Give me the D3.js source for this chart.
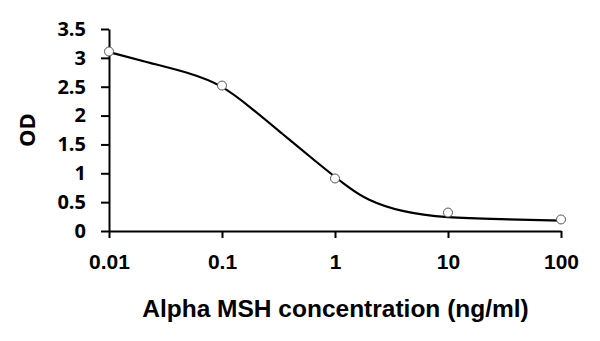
<!DOCTYPE html>
<html><head><meta charset="utf-8">
<script src="https://cdn.jsdelivr.net/npm/d3@7"></script>
<style>html,body{margin:0;padding:0;background:#fff;}</style>
</head><body>
<svg id="chart" width="600" height="341"></svg>
<script>
// Measured points
const concentrations = [0.01, 0.1, 1, 10, 100];
const odValues = [3.11, 2.52, 0.91, 0.32, 0.20];
// Fitted curve
const fitX = [0.01, 0.0231, 0.052, 0.1, 0.177, 0.344, 0.689, 1.30, 1.91, 3.80, 9.8, 28.8, 100];
const fitY = [3.10, 2.91, 2.74, 2.53, 2.15, 1.68, 1.19, 0.76, 0.54, 0.33, 0.225, 0.205, 0.18];
const xTicks = [0.01, 0.1, 1, 10, 100];
const xTickLabels = ["0.01", "0.1", "1", "10", "100"];
const yTicks = [0, 0.5, 1, 1.5, 2, 2.5, 3, 3.5];
const yTickLabels = ["0", "0.5", "1", "1.5", "2", "2.5", "3", "3.5"];

const svg = d3.select("#chart");
const x = d3.scaleLog().domain([0.01, 100]).range([109, 561]);
const y = d3.scaleLinear().domain([0, 3.5]).range([231, 29]);

// Y axis
const yAxis = d3.axisLeft(y).tickValues(yTicks).tickFormat((d,i)=>yTickLabels[i]).tickSize(8).tickSizeOuter(0).tickPadding(15);
const gy = svg.append("g").attr("transform","translate(109,0)").call(yAxis);
gy.select(".domain").attr("stroke","#000").attr("stroke-width",2);
gy.selectAll(".tick line").attr("stroke","#000").attr("stroke-width",2);
gy.selectAll(".tick text").attr("font-family","'Open Sans', sans-serif").attr("font-weight","bold").attr("font-size","20px").attr("fill","#000");

// X axis
const xAxis = d3.axisBottom(x).tickValues(xTicks).tickFormat((d,i)=>xTickLabels[i]).tickSize(7).tickSizeOuter(0).tickPadding(16);
const gx = svg.append("g").attr("transform","translate(0,231)").call(xAxis);
gx.select(".domain").attr("stroke","#000").attr("stroke-width",2);
gx.selectAll(".tick line").attr("stroke","#000").attr("stroke-width",2);
gx.selectAll(".tick text").attr("font-family","'Liberation Sans', Arial, sans-serif").attr("font-weight","bold").attr("font-size","21px").attr("fill","#000");

// Curve
const curveData = fitX.map((v,i)=>[v, fitY[i]]);
const line = d3.line().x(d=>x(d[0])).y(d=>y(d[1])).curve(d3.curveBasis);
svg.append("path").datum(curveData).attr("d", line).attr("fill","none").attr("stroke","#000").attr("stroke-width",2.2);

// Markers
svg.selectAll("circle.pt").data(concentrations).enter().append("circle")
  .attr("class","pt")
  .attr("cx", d=>x(d)).attr("cy", (d,i)=>y(odValues[i])).attr("r",4.5)
  .attr("fill","#fff").attr("stroke","#555").attr("stroke-width",1);

// Axis titles
svg.append("text").attr("x",335.5).attr("y",317).attr("text-anchor","middle")
  .attr("font-family","'Liberation Sans', Arial, sans-serif").attr("font-weight","bold").attr("font-size","24.5px")
  .text("Alpha MSH concentration (ng/ml)");
svg.append("text").attr("transform","translate(35,130) rotate(-90)").attr("text-anchor","middle")
  .attr("font-family","'Open Sans', sans-serif").attr("font-weight","bold").attr("font-size","22px")
  .text("OD");
</script>
</body></html>
